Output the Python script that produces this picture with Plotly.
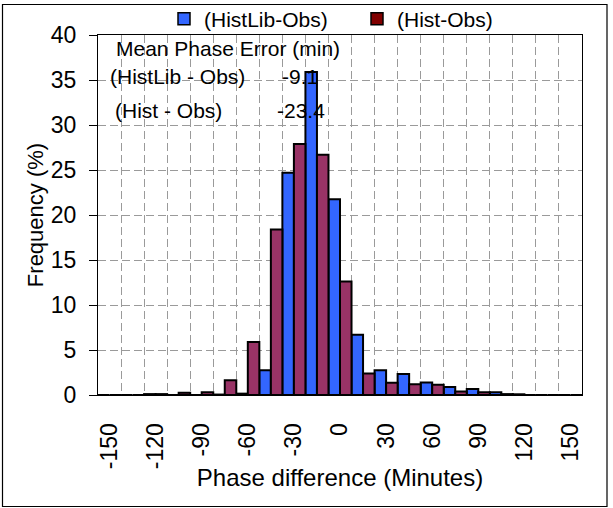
import plotly.graph_objects as go

# ---- data ----
phase_bins = [-150, -135, -120, -105, -90, -75, -60, -45, -30, -15, 0,
              15, 30, 45, 60, 75, 90, 105, 120, 135, 150]
histlib_obs = [0.0, 0.0, 0.1, 0.0, 0.0, 0.05, 0.15, 2.75, 24.7, 35.9, 21.75,
               6.7, 2.75, 2.33, 1.4, 0.88, 0.68, 0.3, 0.08, 0.0, 0.0]
hist_obs = [0.0, 0.0, 0.1, 0.25, 0.3, 1.65, 5.9, 18.4, 27.9, 26.7, 12.6,
            2.4, 1.35, 1.2, 1.14, 0.38, 0.3, 0.1, 0.0, 0.0, 0.0]
tick_values = [-150, -120, -90, -60, -30, 0, 30, 60, 90, 120, 150]
tick_labels = ["-150", "-120", "-90", "-60", "-30", "0", "30", "60", "90", "120", "150"]
series_names = ["(HistLib-Obs)", "(Hist-Obs)"]
mean_labels = ["(HistLib - Obs)", "(Hist - Obs)"]
mean_errors = [-9.1, -23.4]

FONT = "Liberation Sans, Arial, sans-serif"
BLUE = "#3366FF"
MAROON = "#993366"
LEG_MAROON = "#800000"

W, H = 613, 508
L, R, T, B = 98, 31, 35, 113
PW, PH = W - L - R, H - T - B

def px_x(p):
    return (p - L) / PW

def px_y(p):
    return (H - B - p) / PH

fig = go.Figure()
fig.add_trace(go.Bar(x=phase_bins, y=histlib_obs, width=7.5, offset=-7.5,
                     marker=dict(color=BLUE, line=dict(color="black", width=2)),
                     showlegend=False, name=series_names[0]))
fig.add_trace(go.Bar(x=phase_bins, y=hist_obs, width=7.5, offset=0,
                     marker=dict(color=MAROON, line=dict(color="black", width=2)),
                     showlegend=False, name=series_names[1]))
# legend entries
fig.add_trace(go.Bar(x=[None], y=[None], name=series_names[0], legend="legend",
                     marker=dict(color=BLUE, line=dict(color="black", width=1.5))))
fig.add_trace(go.Bar(x=[None], y=[None], name=series_names[1], legend="legend2",
                     marker=dict(color=LEG_MAROON, line=dict(color="black", width=1.5))))

ann_font = dict(family=FONT, size=21, color="black")
annotations = [
    dict(text="Mean Phase Error (min)", x=px_x(114), y=px_y(49), xanchor="left"),
    dict(text=mean_labels[0], x=px_x(108), y=px_y(76), xanchor="left"),
    dict(text=f"{mean_errors[0]}", x=px_x(300), y=px_y(76), xanchor="center"),
    dict(text=mean_labels[1], x=px_x(113), y=px_y(110), xanchor="left"),
    dict(text=f"{mean_errors[1]}", x=px_x(300.5), y=px_y(110), xanchor="center"),
]
for a in annotations:
    a.update(xref="paper", yref="paper", yanchor="middle", showarrow=False, font=ann_font)

leg_common = dict(orientation="h", font=dict(family=FONT, size=21, color="black"),
                  bgcolor="rgba(0,0,0,0)", borderwidth=0, yanchor="middle",
                  xanchor="left")

fig.update_layout(
    width=W, height=H,
    margin=dict(l=L, r=R, t=T, b=B, pad=0, autoexpand=False),
    paper_bgcolor="white", plot_bgcolor="white",
    barmode="overlay",
    font=dict(family=FONT, color="black"),
    annotations=annotations,
    legend=dict(x=px_x(164), y=px_y(19), **leg_common),
    legend2=dict(x=px_x(357), y=px_y(19), **leg_common),
    shapes=[dict(type="rect", xref="paper", yref="paper",
                 x0=px_x(2.5), x1=px_x(607), y0=px_y(506.5), y1=px_y(4.5),
                 line=dict(color="black", width=1.2), layer="below")],
)

fig.update_xaxes(
    range=[-157.5, 157.5],
    tickmode="array", tickvals=tick_values, ticktext=tick_labels,
    tickangle=-90, tickfont=dict(family=FONT, size=23, color="black"),
    ticks="", showgrid=False, zeroline=False,
    showline=True, linecolor="black", linewidth=1, mirror=True,
    ticklabelstandoff=18,
    minor=dict(tick0=-142.5, dtick=15, showgrid=True, gridcolor="#9a9a9a",
               griddash="8px,4px", gridwidth=1, ticks=""),
    title=dict(text="Phase difference (Minutes)", font=dict(family=FONT, size=24, color="black"),
               standoff=0),
)
fig.update_yaxes(
    range=[0, 40], dtick=5, tick0=0,
    tickfont=dict(family=FONT, size=23, color="black"),
    ticks="outside", ticklen=8, tickcolor="black", tickwidth=1,
    showgrid=True, gridcolor="#9a9a9a", griddash="8px,4px", gridwidth=1,
    zeroline=False,
    showline=True, linecolor="black", linewidth=1, mirror=True,
    ticklabelstandoff=8,
    title=dict(text="Frequency (%)", font=dict(family=FONT, size=22, color="black"),
               standoff=1),
)

fig.write_html("out.html", config={"displayModeBar": False},
               post_script="document.body.style.margin='0';")
